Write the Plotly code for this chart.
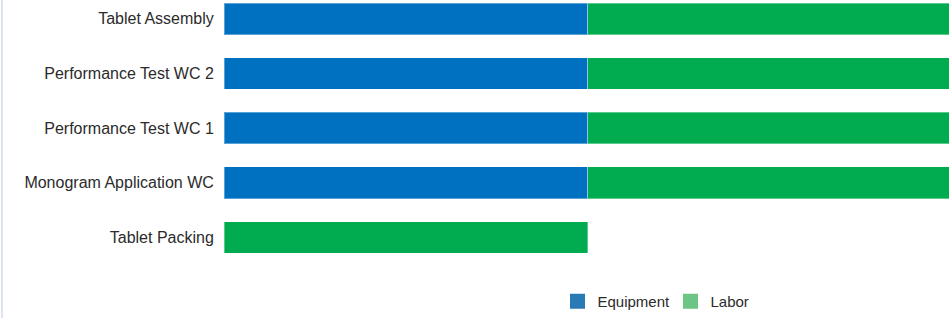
import plotly.graph_objects as go

categories = ["Tablet Assembly", "Performance Test WC 2", "Performance Test WC 1",
              "Monogram Application WC", "Tablet Packing"]
equipment = [1, 1, 1, 1, None]
labor = [1, 1, 1, 1, 1]

bar_blue = "#0070c0"
bar_green = "#00ac4f"
leg_blue = "#2a7ab5"
leg_green = "#6cc485"

fig = go.Figure()
fig.add_trace(go.Bar(y=categories, x=equipment, orientation="h", name="Equipment",
                     marker=dict(color=bar_blue, line=dict(color="rgba(255,255,255,0.35)", width=1)),
                     width=0.58, showlegend=False))
fig.add_trace(go.Bar(y=categories, x=labor, orientation="h", name="Labor",
                     marker=dict(color=bar_green, line=dict(color="rgba(255,255,255,0.35)", width=1)),
                     width=0.58, showlegend=False))
# legend entries
fig.add_trace(go.Scatter(y=[None], x=[None], mode="markers", name="Equipment",
                         marker=dict(color=leg_blue, symbol="square", size=15)))
fig.add_trace(go.Scatter(y=[None], x=[None], mode="markers", name="Labor",
                         marker=dict(color=leg_green, symbol="square", size=15)))

fig.update_layout(
    width=949, height=318,
    margin=dict(l=224, r=0, t=0, b=52),
    barmode="stack",
    plot_bgcolor="white", paper_bgcolor="white",
    font=dict(family="Liberation Sans, Arial", color="#2b2b2b"),
    xaxis=dict(range=[0, 1.992], showticklabels=False, showgrid=False, zeroline=False,
               showline=False, fixedrange=True),
    yaxis=dict(type="category", categoryorder="array", categoryarray=categories,
               range=[4.36, -0.345], showgrid=False, zeroline=False, showline=False,
               ticks="outside", ticklen=6, tickcolor="rgba(0,0,0,0)",
               tickfont=dict(size=16, color="#2b2b2b")),
    legend=dict(orientation="h", x=0.46, xanchor="left", y=-0.11, yanchor="top",
                font=dict(size=15, color="#2b2b2b"), traceorder="normal",
                entrywidth=68, entrywidthmode="pixels"),
    showlegend=True,
    shapes=[dict(type="line", xref="paper", yref="paper",
                 x0=(2 - 224) / 725, x1=(2 - 224) / 725, y0=-0.25, y1=1.05,
                 line=dict(color="#dfe5ee", width=2))],
)

fig.write_html("out.html", config={"displayModeBar": False},
               post_script="document.body.style.margin='0';document.body.style.overflow='hidden';")
